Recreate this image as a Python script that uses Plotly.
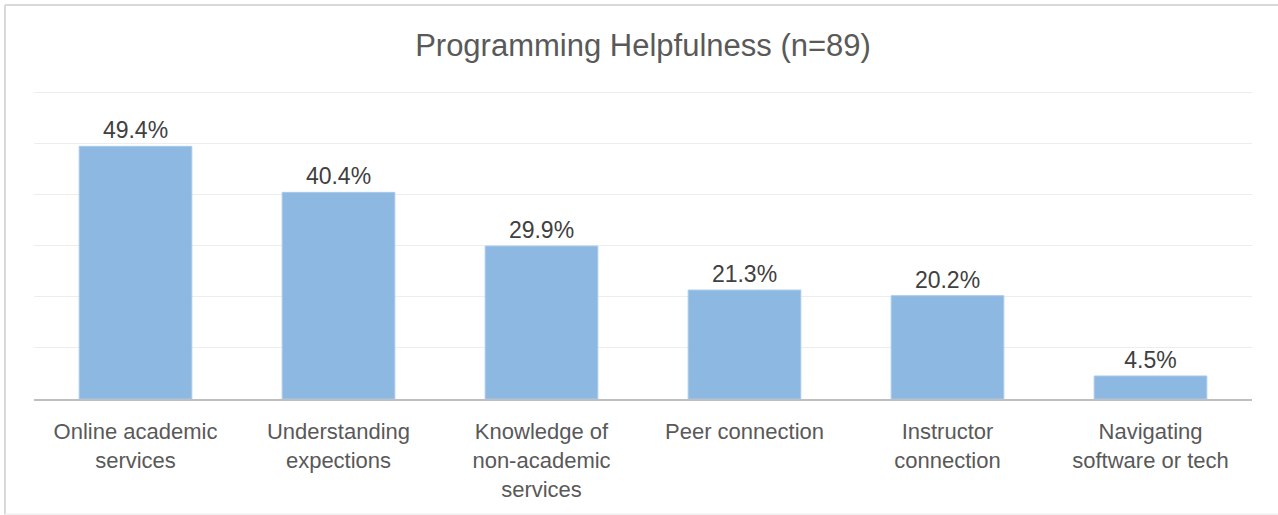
import plotly.graph_objects as go

categories = [
    "Online academic<br>services",
    "Understanding<br>expections",
    "Knowledge of<br>non-academic<br>services",
    "Peer connection",
    "Instructor<br>connection",
    "Navigating<br>software or tech",
]
values = [49.4, 40.4, 29.9, 21.3, 20.2, 4.5]
labels = [f"{v:.1f}%" for v in values]

W, H = 1278, 515
Y_MAX = 61
L, R, T, B = 34, 26, 87, 116
pw, ph = W - L - R, H - T - B

def px_x(p):
    return (p - L) / pw

def px_y(p):
    return (H - B - p) / ph

fig = go.Figure(
    go.Bar(
        x=categories,
        y=values,
        text=labels,
        textposition="outside",
        cliponaxis=False,
        textfont=dict(family="Liberation Sans, Arial, sans-serif", size=23, color="#404040"),
        marker=dict(color="#8DB8E2", line=dict(color="#A9CAEB", width=1)),
    )
)

border = dict(color="#D9D9D9", width=2)
bx0, bx1 = px_x(5), px_x(1300)
by0, by1 = px_y(514.5), px_y(5)

fig.update_layout(
    width=W,
    height=H,
    margin=dict(l=L, r=R, t=T, b=B, autoexpand=False),
    paper_bgcolor="white",
    plot_bgcolor="white",
    bargap=0.445,
    showlegend=False,
    font=dict(family="Liberation Sans, Arial, sans-serif", color="#595959"),
    title=dict(
        text="Programming Helpfulness (n=89)",
        x=0.5,
        xref="paper",
        xanchor="center",
        y=1 - 45 / H,
        yref="container",
        yanchor="middle",
        font=dict(size=31, color="#595959"),
    ),
    xaxis=dict(
        showline=True,
        linecolor="#BFBFBF",
        linewidth=2,
        showgrid=False,
        ticks="",
        ticklabelstandoff=12,
        tickfont=dict(size=22, color="#595959"),
        fixedrange=True,
    ),
    yaxis=dict(
        range=[0, Y_MAX],
        tick0=0,
        dtick=10,
        showticklabels=False,
        showgrid=True,
        gridcolor="#EDEDED",
        gridwidth=1,
        zeroline=False,
        showline=False,
        fixedrange=True,
    ),
    shapes=[
        dict(type="line", xref="paper", yref="paper", x0=bx0, x1=bx1, y0=by1, y1=by1, line=border),
        dict(type="line", xref="paper", yref="paper", x0=bx0, x1=bx0, y0=by0, y1=by1, line=border),
        dict(type="line", xref="paper", yref="paper", x0=bx0, x1=bx1, y0=by0, y1=by0,
             line=dict(color="#EFEFEF", width=2)),
    ],
)

fig.write_html(
    "out.html",
    config={"displayModeBar": False},
    post_script="document.body.style.margin='0';document.body.style.overflow='hidden';",
)
